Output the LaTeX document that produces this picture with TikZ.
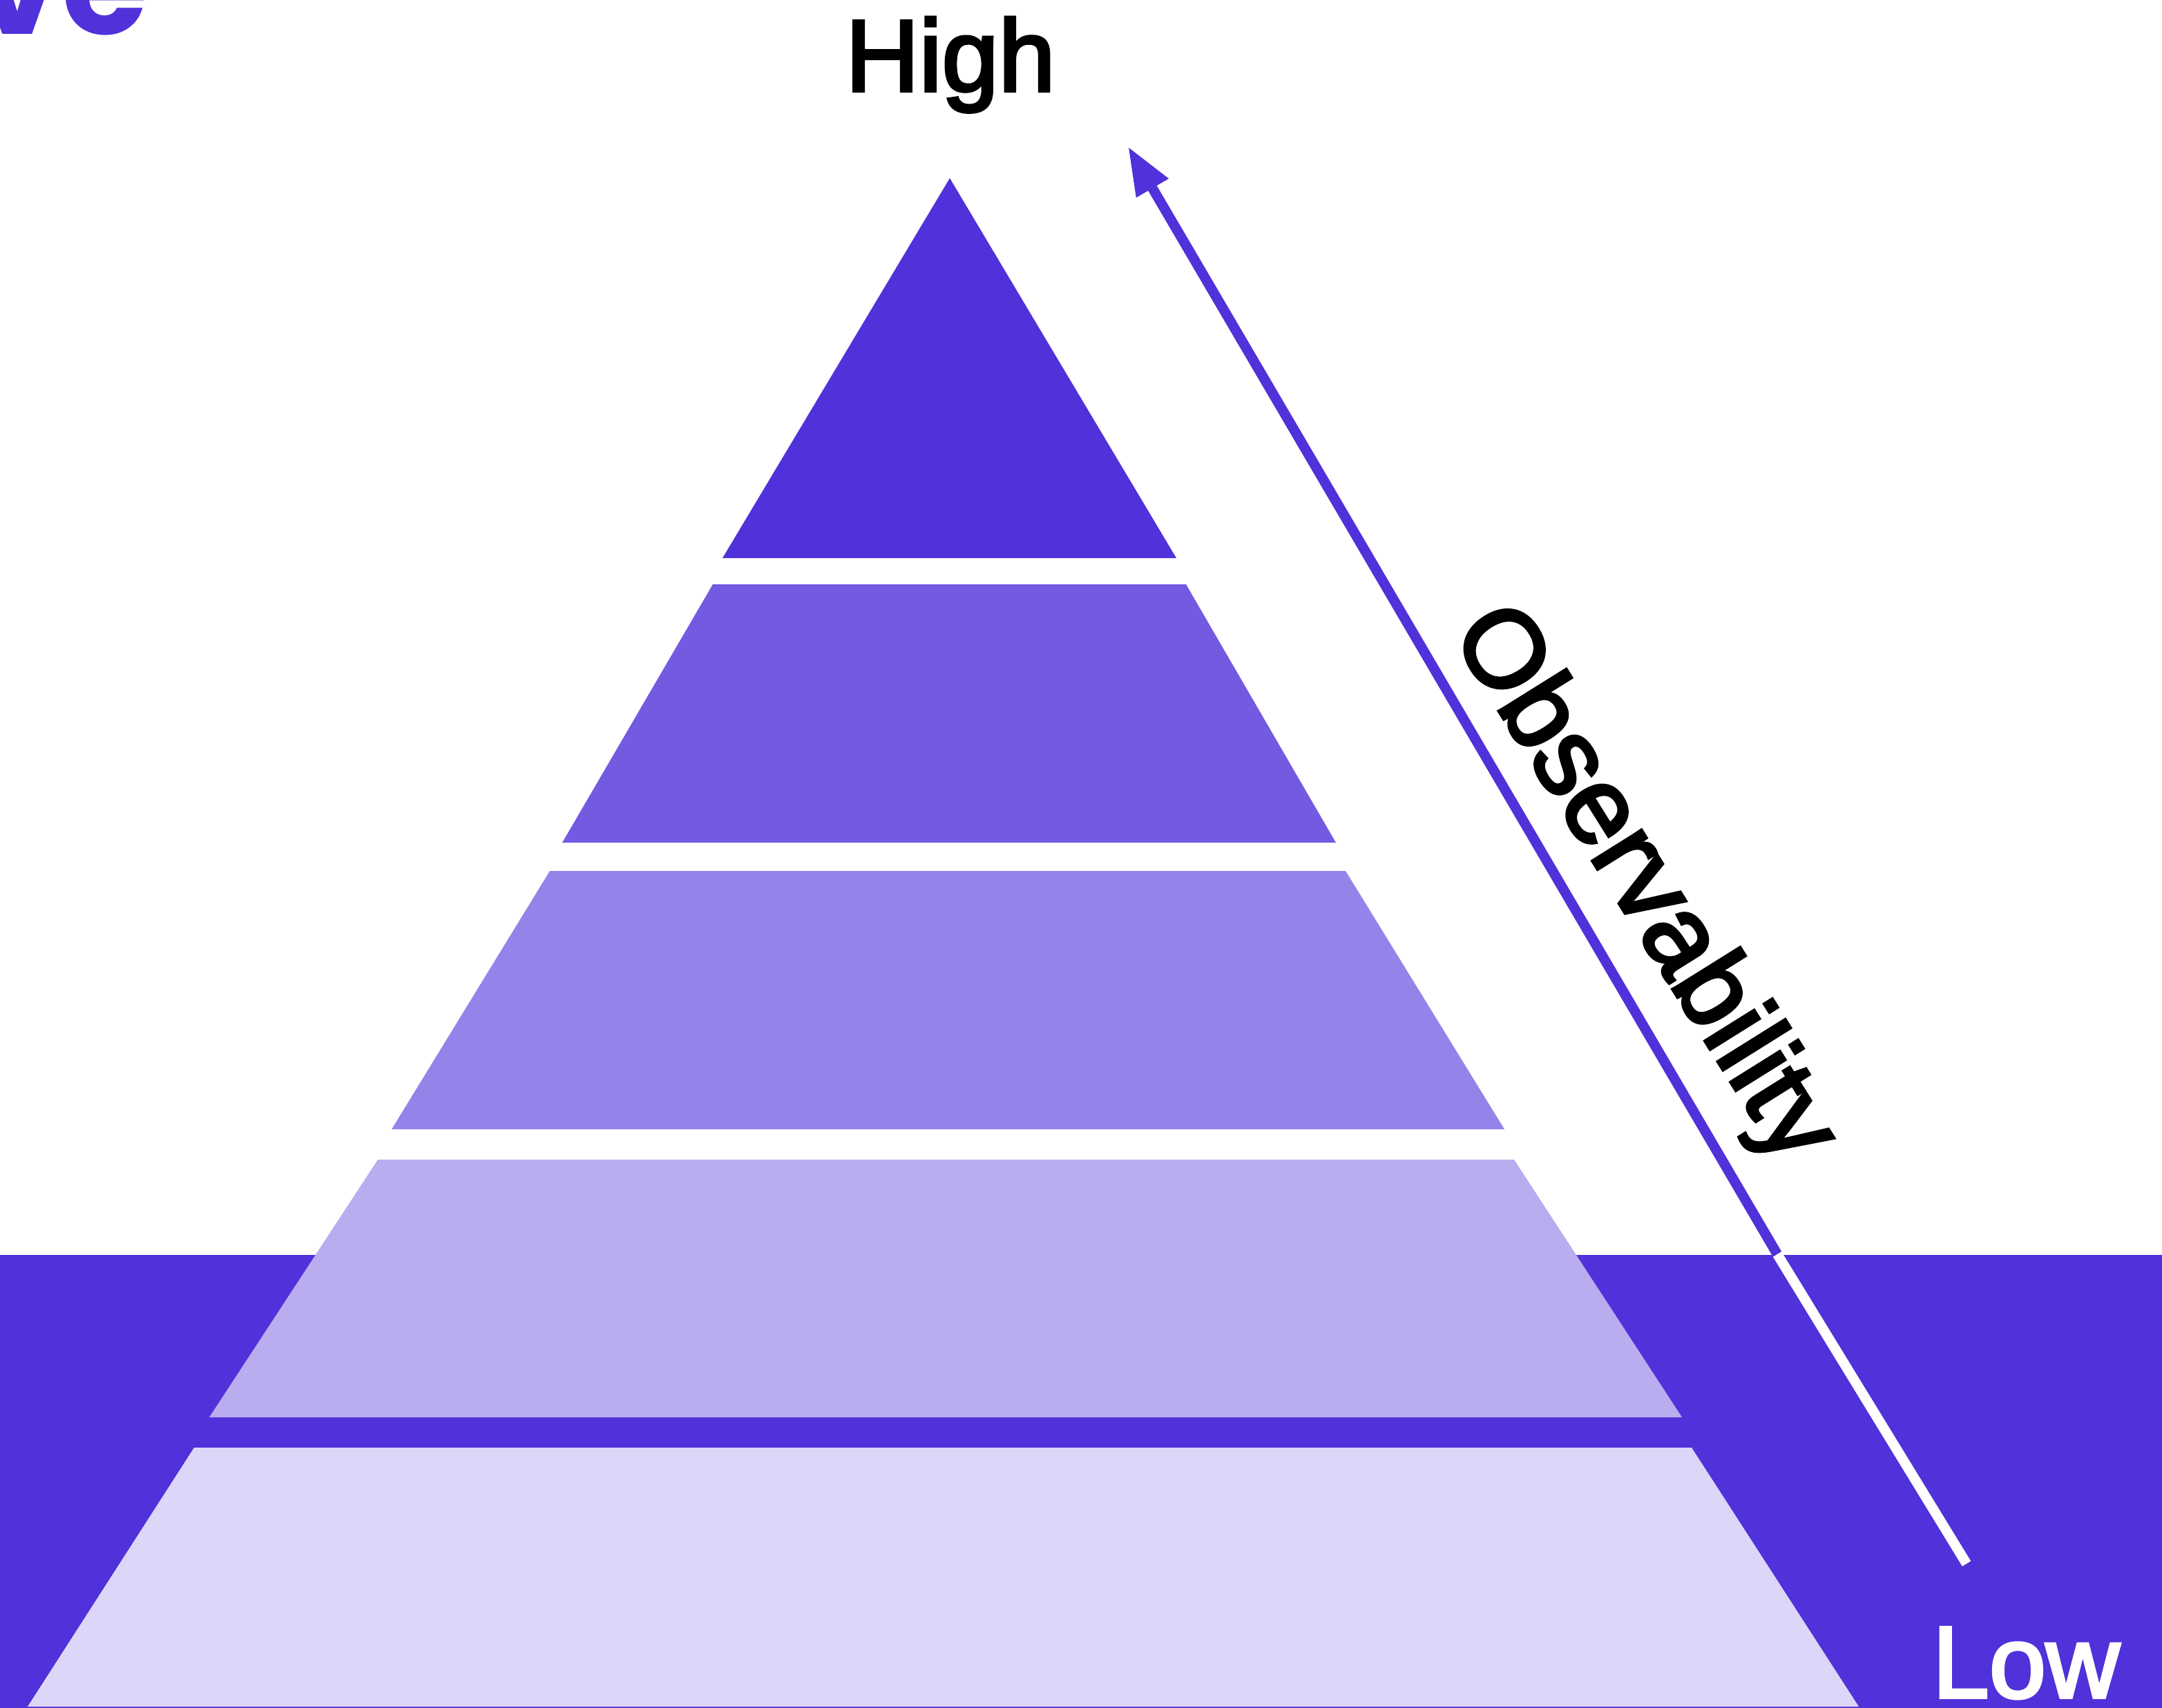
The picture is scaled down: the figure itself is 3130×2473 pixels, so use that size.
\documentclass[tikz,border=0pt]{standalone}
\usepackage{fontspec}
\setmainfont{Liberation Sans}
\newfontfamily\lblfont{Liberation Sans}[RawFeature={embolden=3}]
\newfontfamily\popfont{Poppins}
\usetikzlibrary{arrows.meta}
\definecolor{brand}{RGB}{80,49,218}
\begin{document}
\begin{tikzpicture}[x=0.01cm,y=-0.01cm,
  lbl/.style={inner sep=0pt, font=\lblfont\fontsize{42}{50}\selectfont},
  arrowline/.style={line width=0.145cm, draw=brand},
]
\useasboundingbox (0,0) rectangle (3130,2473);
\fill[white] (0,0) rectangle (3130,2473);
\fill[brand] (0,1817) rectangle (3130,2473);
% pyramid levels
\fill[brand]    (1375,258) -- (1703,808) -- (1046,808) -- cycle;
\fill[brand!80] (1032,846) -- (1717,846) -- (1934,1220) -- (814,1220) -- cycle;
\fill[brand!60] (796,1261) -- (1948,1261) -- (2178,1635) -- (567,1635) -- cycle;
\fill[brand!40] (547,1679) -- (2192,1679) -- (2435,2052) -- (303,2052) -- cycle;
\fill[brand!20] (281,2096) -- (2449,2096) -- (2691,2471) -- (40,2471) -- cycle;
% arrow
\coordinate (tip) at (1633,212);
\coordinate (kink) at (2573,1816);
\coordinate (tail) at (2847,2264);
\draw[arrowline, -{Triangle[length=0.7cm,width=0.5cm]}] (kink) -- (tip);
\draw[arrowline, draw=white] (kink) -- (tail);
% texts
\node[lbl, anchor=base] (high) at (1376,132) {High};
\node[lbl, anchor=base west, text=white] (low) at (2797,2458) {Low};
\node[inner sep=0pt, font=\lblfont\fontsize{45}{54}\selectfont, rotate=-58, anchor=base west] (obs) at (2099,916) {Observability};
\node[inner sep=0pt, font=\popfont\bfseries\fontsize{58}{70}\selectfont, text=brand, anchor=base east] (ve) at (216,50) {ve};
\end{tikzpicture}
\end{document}
